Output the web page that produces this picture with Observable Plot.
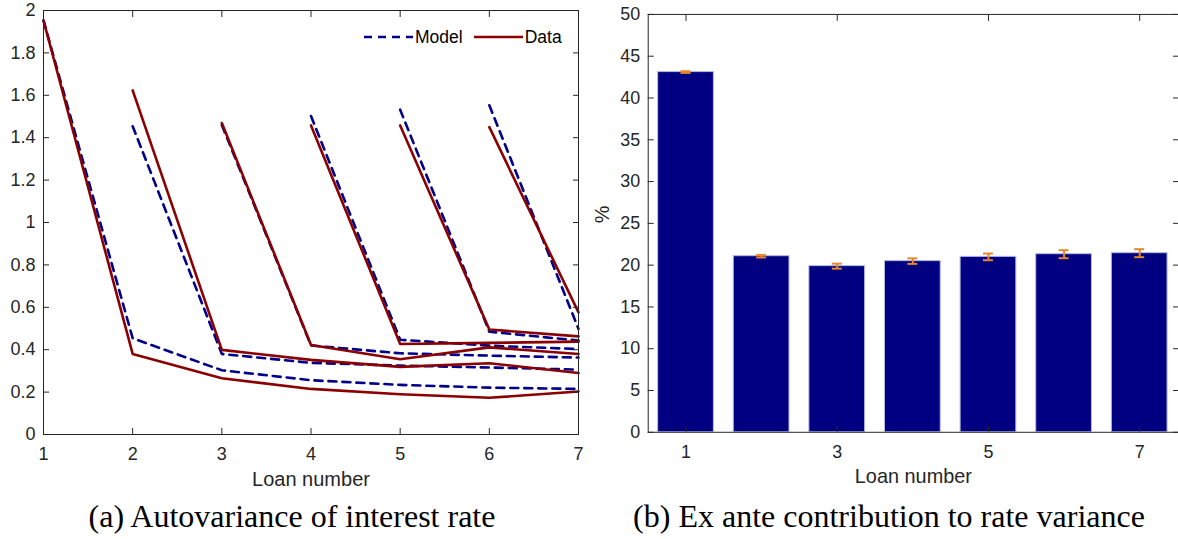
<!DOCTYPE html>
<html><head><meta charset="utf-8">
<script src="https://cdn.jsdelivr.net/npm/d3@7"></script>
<script src="https://cdn.jsdelivr.net/npm/@observablehq/plot@0.6"></script>
<style>
body{margin:0;background:#fff;}
#wrap{position:relative;width:1178px;height:539px;overflow:hidden;background:#fff;font-family:"Liberation Sans",Arial,sans-serif;}
#left{position:absolute;left:0;top:0;}
#right{position:absolute;left:590px;top:0;}
.cap{position:absolute;top:500px;font-family:"Liberation Serif",serif;font-size:32px;line-height:32px;white-space:nowrap;color:#000;transform:translateX(-50%);}
#legend{position:absolute;left:363px;top:26px;height:22px;display:flex;align-items:center;font-size:17.5px;color:#000;}
#legend svg{display:block;}
</style></head><body>
<div id="wrap">
  <div id="left"></div>
  <div id="right"></div>
  <div id="legend"></div>
  <div class="cap" id="capA" style="left:292px"></div>
  <div class="cap" id="capB" style="left:889px"></div>
</div>
<script>
// ---------- data ----------
const loans = [1, 2, 3, 4, 5, 6, 7];
const seriesNames = ["Model", "Data"];
// Autovariance: series starting at loan k (values at loans k..7)
const dataStart1 = [1.953, 0.380, 0.265, 0.215, 0.190, 0.173, 0.203];
const dataStart2 = [1.623, 0.399, 0.352, 0.319, 0.336, 0.290];
const dataStart3 = [1.469, 0.422, 0.355, 0.411, 0.380];
const dataStart4 = [1.458, 0.427, 0.432, 0.438];
const dataStart5 = [1.458, 0.495, 0.463];
const dataStart6 = [1.450, 0.576];
const modelStart1 = [1.953, 0.454, 0.303, 0.256, 0.234, 0.221, 0.215];
const modelStart2 = [1.454, 0.380, 0.338, 0.325, 0.316, 0.306];
const modelStart3 = [1.460, 0.420, 0.383, 0.372, 0.363];
const modelStart4 = [1.502, 0.447, 0.419, 0.403];
const modelStart5 = [1.532, 0.485, 0.443];
const modelStart6 = [1.553, 0.498];
const yTicksA = [0, 0.2, 0.4, 0.6, 0.8, 1, 1.2, 1.4, 1.6, 1.8, 2];
const xTicksA = [1, 2, 3, 4, 5, 6, 7];

// Ex ante contribution to rate variance (%)
const contribution = [43.1, 21.07, 19.88, 20.48, 20.99, 21.31, 21.43];
const contribErr = [0.1, 0.15, 0.3, 0.33, 0.4, 0.48, 0.48];
const yTicksB = [0, 5, 10, 15, 20, 25, 30, 35, 40, 45, 50];
const xTicksB = [1, 3, 5, 7];

const xLabel = "Loan number";
const yLabelB = "%";
const captionA = "(a) Autovariance of interest rate";
const captionB = "(b) Ex ante contribution to rate variance";

// ---------- build tables ----------
function rowsFor(list, name) {
  const out = [];
  list.forEach((vals, si) => {
    const start = si + 1;
    vals.forEach((v, i) => out.push({series: name, start, loan: start + i, value: v}));
  });
  return out;
}
const dataRows = rowsFor([dataStart1, dataStart2, dataStart3, dataStart4, dataStart5, dataStart6], "Data");
const modelRows = rowsFor([modelStart1, modelStart2, modelStart3, modelStart4, modelStart5, modelStart6], "Model");
const barRows = loans.map((l, i) => ({loan: l, value: contribution[i], err: contribErr[i]}));

const MODEL = "#00008B", DATA = "#8B0000", AX = "#262626", BAR = "#000080", ERR = "#E8872C";
const font = "'Liberation Sans', Arial, sans-serif";

// ---------- left chart ----------
const left = Plot.plot({
  width: 590, height: 490,
  marginLeft: 43, marginRight: 12, marginTop: 10, marginBottom: 56,
  style: {fontFamily: font, fontSize: "18px", color: AX, background: "white", overflow: "visible"},
  x: {domain: [1, 7]},
  y: {domain: [0, 2]},
  marks: [
    Plot.line(modelRows, {x: "loan", y: "value", z: "start", stroke: MODEL, strokeWidth: 2.6, strokeDasharray: "8,6"}),
    Plot.line(dataRows, {x: "loan", y: "value", z: "start", stroke: DATA, strokeWidth: 2.6}),
    Plot.frame({stroke: AX, strokeWidth: 1}),
    Plot.axisX(xTicksA, {anchor: "bottom", tickSize: -6, tickPadding: 19, tickFormat: d => String(d), label: null, stroke: AX}),
    Plot.axisX(xTicksA, {anchor: "top", tickSize: -6, tickFormat: () => "", label: null, stroke: AX}),
    Plot.axisY(yTicksA, {anchor: "left", tickSize: -6, tickPadding: 14, tickFormat: d => String(d), label: null, stroke: AX}),
    Plot.axisY(yTicksA, {anchor: "right", tickSize: -6, tickFormat: () => "", label: null, stroke: AX}),
    Plot.text([xLabel], {frameAnchor: "bottom", lineAnchor: "middle", dy: 45, fontSize: 20, fill: AX})
  ]
});
document.getElementById("left").append(left);

// ---------- right chart ----------
const right = Plot.plot({
  width: 591, height: 490,
  marginLeft: 58, marginRight: 0, marginTop: 14, marginBottom: 56,
  style: {fontFamily: font, fontSize: "18px", color: AX, background: "white", overflow: "visible"},
  x: {type: "band", domain: loans, paddingInner: 0.26, paddingOuter: 0.13},
  y: {domain: [0, 50]},
  marks: [
    Plot.barY(barRows, {x: "loan", y: "value", fill: BAR, stroke: "#b4b8e4", strokeWidth: 1}),
    Plot.ruleX(barRows, {x: "loan", y1: d => d.value - d.err, y2: d => d.value + d.err, stroke: ERR, strokeWidth: 2}),
    Plot.tickY(barRows, {x: "loan", y: d => d.value - d.err, stroke: ERR, strokeWidth: 2, insetLeft: 23, insetRight: 23}),
    Plot.tickY(barRows, {x: "loan", y: d => d.value + d.err, stroke: ERR, strokeWidth: 2, insetLeft: 23, insetRight: 23}),
    Plot.frame({stroke: AX, strokeWidth: 1}),
    Plot.axisX(xTicksB, {anchor: "bottom", tickSize: -6, tickPadding: 19, tickFormat: d => String(d), label: null, stroke: AX}),
    Plot.axisX(xTicksB, {anchor: "top", tickSize: -6, tickFormat: () => "", label: null, stroke: AX}),
    Plot.axisY(yTicksB, {anchor: "left", tickSize: -6, tickPadding: 14, tickFormat: d => String(d), label: null, stroke: AX}),
    Plot.axisY(yTicksB, {anchor: "right", tickSize: -6, tickFormat: () => "", label: null, stroke: AX}),
    Plot.text([yLabelB], {frameAnchor: "left", dx: -46, rotate: -90, fontSize: 20, fill: AX}),
    Plot.text([xLabel], {frameAnchor: "bottom", lineAnchor: "middle", dy: 45, fontSize: 20, fill: AX})
  ]
});
document.getElementById("right").append(right);

// ---------- legend ----------
const legend = document.getElementById("legend");
const styles = {Model: {stroke: MODEL, dash: "8,6"}, Data: {stroke: DATA, dash: null}};
seriesNames.forEach((name, i) => {
  const s = styles[name];
  const ns = "http://www.w3.org/2000/svg";
  const svg = document.createElementNS(ns, "svg");
  svg.setAttribute("width", 50); svg.setAttribute("height", 10);
  const ln = document.createElementNS(ns, "line");
  ln.setAttribute("x1", 1); ln.setAttribute("x2", 50); ln.setAttribute("y1", 5); ln.setAttribute("y2", 5);
  ln.setAttribute("stroke", s.stroke); ln.setAttribute("stroke-width", 2.6);
  if (s.dash) ln.setAttribute("stroke-dasharray", s.dash);
  svg.append(ln);
  const t = document.createElement("span");
  t.textContent = name;
  t.style.marginLeft = "2px";
  t.style.marginRight = i === 0 ? "10px" : "0";
  legend.append(svg, t);
});

document.getElementById("capA").textContent = captionA;
document.getElementById("capB").textContent = captionB;
</script>
</body></html>
